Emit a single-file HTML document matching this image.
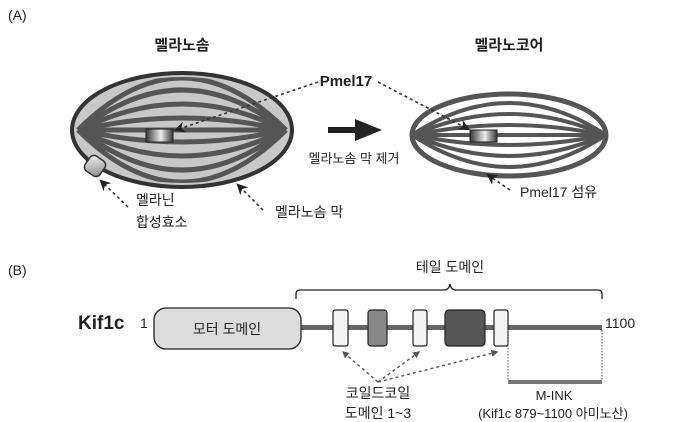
<!DOCTYPE html>
<html><head><meta charset="utf-8"><style>
html,body{margin:0;padding:0;background:#fff}
svg{display:block}
text{font-family:"Liberation Sans","Noto Sans CJK KR",sans-serif;fill:#222}
</style></head><body>
<svg width="680" height="422" viewBox="0 0 680 422" xmlns="http://www.w3.org/2000/svg">
<defs>
<linearGradient id="g" x1="0" x2="1"><stop offset="0" stop-color="#333"/><stop offset="0.55" stop-color="#eee"/><stop offset="1" stop-color="#333"/></linearGradient>
<linearGradient id="e" x1="0" y1="0" x2="1" y2="1"><stop offset="0" stop-color="#f4f4f4"/><stop offset="1" stop-color="#888"/></linearGradient>
<marker id="ah" viewBox="0 0 10 10" refX="8" refY="5" markerWidth="7" markerHeight="7" orient="auto"><path d="M0,0 L10,5 L0,10 L3,5 z" fill="#222"/></marker>
<marker id="at" viewBox="0 0 10 10" refX="8" refY="5" markerWidth="5" markerHeight="5" orient="auto"><path d="M0,0 L10,5 L0,10 z" fill="#555"/></marker>
<clipPath id="cl"><ellipse cx="182" cy="130" rx="106" ry="53"/></clipPath>
</defs>
<text x="8" y="20" font-size="14">(A)</text>
<text x="182" y="50" font-size="15" font-weight="bold" text-anchor="middle">멜라노솜</text>
<text x="509" y="50" font-size="15" font-weight="bold" text-anchor="middle">멜라노코어</text>
<!-- left ellipse -->
<ellipse cx="182" cy="130" rx="110" ry="57" fill="#c8c8c8" stroke="#333" stroke-width="4"/>
<g fill="none" stroke="#555" stroke-width="5" clip-path="url(#cl)">
<path d="M80,130 L284,130"/>
<path d="M80,130 Q182,106 284,130"/><path d="M80,130 Q182,154 284,130"/>
<path d="M80,130 Q182,78 284,130"/><path d="M80,130 Q182,182 284,130"/>
<path d="M80,130 Q182,50 284,130"/><path d="M80,130 Q182,210 284,130"/>
<path d="M78,130 Q182,26 286,130"/><path d="M78,130 Q182,234 286,130"/>
</g>
<rect x="146" y="129" width="27" height="13" fill="url(#g)" stroke="#222"/>
<rect x="86" y="157" width="18" height="18" rx="5" transform="rotate(35 95 166)" fill="url(#e)" stroke="#333" stroke-width="1.5"/>
<!-- right ellipse -->
<g fill="none" stroke="#555" stroke-width="4">
<ellipse cx="509" cy="135" rx="97" ry="41" stroke-width="5"/>
<path d="M414,135 L604,135"/>
<path d="M414,135 Q509,115 604,135"/><path d="M414,135 Q509,155 604,135"/>
<path d="M413,135 Q509,93 605,135"/><path d="M413,135 Q509,177 605,135"/>
<path d="M412,135 Q509,71 606,135"/><path d="M412,135 Q509,199 606,135"/>
</g>
<rect x="470" y="130" width="27" height="12" fill="url(#g)" stroke="#222"/>
<!-- arrow -->
<path d="M328,130 H358" stroke="#222" stroke-width="6"/>
<path d="M355,119 L382,130 L355,141 z" fill="#222"/>
<text x="346" y="86" font-size="15" font-weight="bold" text-anchor="middle">Pmel17</text>
<text x="354" y="163" font-size="13" text-anchor="middle">멜라노솜 막 제거</text>
<g fill="none" stroke="#333" stroke-width="1.6" stroke-dasharray="3,3">
<path d="M318,82 L176,130" marker-end="url(#ah)"/>
<path d="M378,82 L468,129" marker-end="url(#ah)"/>
<path d="M128,207 L101,181" marker-end="url(#ah)"/>
<path d="M263,210 L238,185" marker-end="url(#ah)"/>
<path d="M510,190 L488,175" marker-end="url(#ah)"/>
</g>
<text x="136" y="205" font-size="14">멜라닌</text>
<text x="136" y="227" font-size="14">합성효소</text>
<text x="275" y="217" font-size="14">멜라노솜 막</text>
<text x="520" y="197" font-size="14">Pmel17 섬유</text>
<!-- B -->
<text x="8" y="275" font-size="14">(B)</text>
<text x="450" y="272" font-size="14" text-anchor="middle">테일 도메인</text>
<path d="M296,299 V294 Q296,290 300,290 H444 Q449,290 450,284 Q451,290 456,290 H598 Q602,290 602,294 V299" fill="none" stroke="#222" stroke-width="1.3"/>
<text x="78" y="329" font-size="19" font-weight="bold">Kif1c</text>
<text x="140" y="328" font-size="14">1</text>
<rect x="300" y="325" width="302" height="5" fill="#666"/>
<rect x="154" y="308" width="147" height="41" rx="12" fill="#dcdcdc" stroke="#222" stroke-width="1.3"/>
<text x="227" y="334" font-size="14" text-anchor="middle">모터 도메인</text>
<g stroke="#222" stroke-width="1.2">
<rect x="333" y="310" width="15" height="36" rx="2" fill="#f4f4f4"/>
<rect x="368" y="310" width="19" height="36" rx="3" fill="#888"/>
<rect x="413" y="310" width="14" height="36" rx="2" fill="#f4f4f4"/>
<rect x="445" y="310" width="40" height="36" rx="4" fill="#555"/>
<rect x="494" y="310" width="14" height="36" rx="2" fill="#f4f4f4"/>
</g>
<text x="605" y="328" font-size="14">1100</text>
<path d="M508,330 V380 M602,330 V380" stroke="#555" stroke-width="1" stroke-dasharray="1.5,1.5"/>
<rect x="508" y="380" width="94" height="4" fill="#777"/>
<g fill="none" stroke="#555" stroke-width="1.4" stroke-dasharray="3,3">
<path d="M378,382 L343,352" marker-end="url(#at)"/>
<path d="M378,382 L419,352" marker-end="url(#at)"/>
<path d="M378,382 L497,352" marker-end="url(#at)"/>
</g>
<text x="378" y="398" font-size="14" text-anchor="middle">코일드코일</text>
<text x="378" y="418" font-size="14" text-anchor="middle">도메인 1~3</text>
<text x="554" y="400" font-size="13" text-anchor="middle">M-INK</text>
<text x="553" y="418" font-size="13" text-anchor="middle">(Kif1c 879~1100 아미노산)</text>
</svg>
</body></html>
